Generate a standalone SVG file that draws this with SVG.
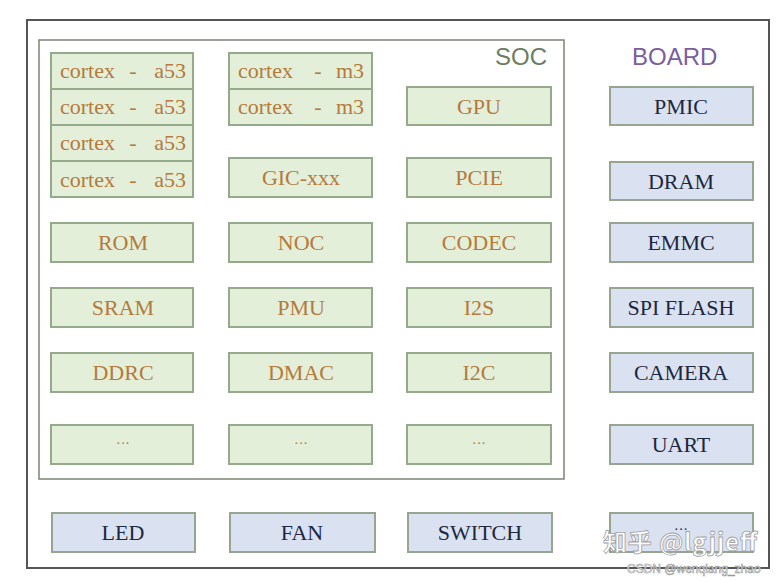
<svg xmlns="http://www.w3.org/2000/svg" width="783" height="582" viewBox="0 0 783 582">
<style>
.g rect{fill:#e3efd9;stroke:#94aa8b;stroke-width:2}
.b rect{fill:#dae2f1;stroke:#96a58f;stroke-width:2}
text{font-family:"Liberation Serif","Times New Roman",serif;font-size:22px}
.g text{fill:#b57a3c;text-anchor:middle}
.b text{fill:#1e2740;text-anchor:middle}
.g text.l{text-anchor:start}
.g text.r{text-anchor:end}
.frame{fill:none;stroke:#555;stroke-width:2}
.soc{fill:none;stroke:#7a8574;stroke-width:1.5}
.lbl{font-family:"Liberation Sans",Arial,sans-serif;font-size:24px}
.dots{font-size:14px}
</style>
<rect width="783" height="582" fill="#ffffff"/>
<rect id="board" class="frame" x="27" y="20" width="742" height="548"/>
<text class="lbl" x="632" y="65" fill="#7b5e9e">BOARD</text>
<g id="soc">
<rect class="soc" x="39" y="40" width="525" height="439"/>
<text class="lbl" x="495" y="65" fill="#6c7e5e">SOC</text>
</g>
<g id="connectors"></g>
<g id="a53-0" class="g"><rect x="51" y="53" width="142" height="36"/><text class="l" x="60" y="78">cortex</text><text x="133" y="78">-</text><text class="r" x="186" y="78">a53</text></g>
<g id="a53-1" class="g"><rect x="51" y="89" width="142" height="36"/><text class="l" x="60" y="114">cortex</text><text x="133" y="114">-</text><text class="r" x="186" y="114">a53</text></g>
<g id="a53-2" class="g"><rect x="51" y="125" width="142" height="36"/><text class="l" x="60" y="150">cortex</text><text x="133" y="150">-</text><text class="r" x="186" y="150">a53</text></g>
<g id="a53-3" class="g"><rect x="51" y="161" width="142" height="36"/><text class="l" x="60" y="187">cortex</text><text x="133" y="187">-</text><text class="r" x="186" y="187">a53</text></g>
<g id="m3-0" class="g"><rect x="229" y="53" width="143" height="36"/><text class="l" x="238" y="78">cortex</text><text x="318" y="78">-</text><text class="r" x="364" y="78">m3</text></g>
<g id="m3-1" class="g"><rect x="229" y="89" width="143" height="36"/><text class="l" x="238" y="114">cortex</text><text x="318" y="114">-</text><text class="r" x="364" y="114">m3</text></g>
<g id="gic" class="g"><rect x="229" y="158" width="143" height="39"/><text x="301" y="185">GIC-xxx</text></g>
<g id="gpu" class="g"><rect x="407" y="87" width="144" height="38"/><text x="479" y="114">GPU</text></g>
<g id="pcie" class="g"><rect x="407" y="158" width="144" height="39"/><text x="479" y="185">PCIE</text></g>
<g id="rom" class="g"><rect x="51" y="223" width="142" height="39"/><text x="123" y="250">ROM</text></g>
<g id="noc" class="g"><rect x="229" y="223" width="143" height="39"/><text x="301" y="250">NOC</text></g>
<g id="codec" class="g"><rect x="407" y="223" width="144" height="39"/><text x="479" y="250">CODEC</text></g>
<g id="sram" class="g"><rect x="51" y="288" width="142" height="39"/><text x="123" y="315">SRAM</text></g>
<g id="pmu" class="g"><rect x="229" y="288" width="143" height="39"/><text x="301" y="315">PMU</text></g>
<g id="i2s" class="g"><rect x="407" y="288" width="144" height="39"/><text x="479" y="315">I2S</text></g>
<g id="ddrc" class="g"><rect x="51" y="353" width="142" height="39"/><text x="123" y="380">DDRC</text></g>
<g id="dmac" class="g"><rect x="229" y="353" width="143" height="39"/><text x="301" y="380">DMAC</text></g>
<g id="i2c" class="g"><rect x="407" y="353" width="144" height="39"/><text x="479" y="380">I2C</text></g>
<g id="etc1" class="g"><rect x="51" y="425" width="142" height="39"/><text class="dots" x="123" y="448">···</text></g>
<g id="etc2" class="g"><rect x="229" y="425" width="143" height="39"/><text class="dots" x="301" y="448">···</text></g>
<g id="etc3" class="g"><rect x="407" y="425" width="144" height="39"/><text class="dots" x="479" y="448">···</text></g>
<g id="pmic" class="b"><rect x="610" y="87" width="143" height="38"/><text x="681" y="114">PMIC</text></g>
<g id="dram" class="b"><rect x="610" y="162" width="143" height="38"/><text x="681" y="189">DRAM</text></g>
<g id="emmc" class="b"><rect x="610" y="223" width="143" height="39"/><text x="681" y="250">EMMC</text></g>
<g id="spiflash" class="b"><rect x="610" y="288" width="143" height="39"/><text x="681" y="315">SPI FLASH</text></g>
<g id="camera" class="b"><rect x="610" y="353" width="143" height="39"/><text x="681" y="380">CAMERA</text></g>
<g id="uart" class="b"><rect x="610" y="425" width="143" height="39"/><text x="681" y="452">UART</text></g>
<g id="led" class="b"><rect x="52" y="513" width="143" height="39"/><text x="123" y="540">LED</text></g>
<g id="fan" class="b"><rect x="230" y="513" width="145" height="39"/><text x="302" y="540">FAN</text></g>
<g id="switch" class="b"><rect x="408" y="513" width="144" height="39"/><text x="480" y="540">SWITCH</text></g>
<g id="etc4" class="b"><rect x="610" y="513" width="143" height="39"/><text class="dots" x="681" y="534">···</text></g>
<g id="watermark">
<text x="603" y="551" textLength="154" style="font-family:'Noto Sans CJK SC','Liberation Sans',sans-serif;font-size:24px;font-weight:bold;fill:#ffffff;stroke:#a0a0a0;stroke-width:0.8">知乎 @lgjjeff</text>
<text x="627" y="573" style="font-family:'Liberation Sans',Arial,sans-serif;font-size:12px;fill:#ffffff;stroke:#9a9a9a;stroke-width:0.6">CSDN @wenqiang_zhao</text>
</g>
</svg>
